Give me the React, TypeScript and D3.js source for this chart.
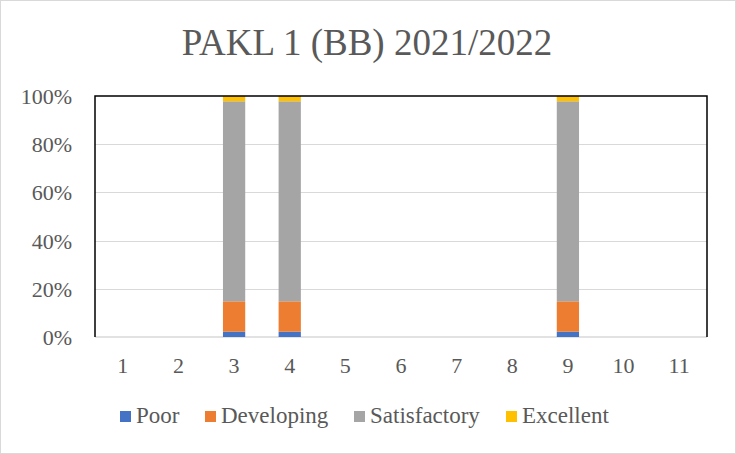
import React from "react";
import * as d3 from "d3";

const categories = ["1", "2", "3", "4", "5", "6", "7", "8", "9", "10", "11"];
const seriesNames = ["Poor", "Developing", "Satisfactory", "Excellent"];
const seriesColors = ["#4472C4", "#ED7D31", "#A5A5A5", "#FFC000"];
const poor = [0, 0, 2.2, 2.2, 0, 0, 0, 0, 2.2, 0, 0];
const developing = [0, 0, 12.6, 12.6, 0, 0, 0, 0, 12.6, 0, 0];
const satisfactory = [0, 0, 83.0, 83.0, 0, 0, 0, 0, 83.0, 0, 0];
const excellent = [0, 0, 2.2, 2.2, 0, 0, 0, 0, 2.2, 0, 0];
const yTicks = [0, 0.2, 0.4, 0.6, 0.8, 1];
const title = "PAKL 1 (BB) 2021/2022";

const W = 736;
const H = 454;
const left = 95;
const right = 707;
const top = 96;
const bottom = 337;
const font = "'Times New Roman', 'Liberation Serif', serif";
const textColor = "#595959";

export default function App() {
  const rows = categories.map((c, i) => ({
    cat: c,
    Poor: poor[i],
    Developing: developing[i],
    Satisfactory: satisfactory[i],
    Excellent: excellent[i],
  }));
  const stack = d3.stack<any>().keys(seriesNames).offset(d3.stackOffsetExpand);
  const layers = stack(rows);
  const x = d3.scaleBand().domain(categories).range([left, right]).paddingInner(0.6).paddingOuter(0.3);
  const y = d3.scaleLinear().domain([0, 1]).range([bottom, top]);
  const color = d3.scaleOrdinal<string, string>().domain(seriesNames).range(seriesColors);
  const fmt = d3.format(".0%");

  const legendX = [120, 205, 354, 506];

  return (
    <div style={{ position: "absolute", left: 0, top: 0 }}>
      <svg width={W} height={H} style={{ display: "block" }}>
        <rect x={0.5} y={0.5} width={W - 1} height={H - 1} fill="#fff" stroke="#d9d9d9" />
        <text x={W / 2 - 1} y={55} textAnchor="middle" fontFamily={font} fontSize={37} fill={textColor}>
          {title}
        </text>
        {yTicks.map((t) => (
          <g key={t}>
            {t > 0 && t < 1 && (
              <line x1={left} x2={right} y1={Math.round(y(t)) + 0.5} y2={Math.round(y(t)) + 0.5} stroke="#d9d9d9" strokeWidth={1} />
            )}
            <text x={72} y={y(t) + 8} textAnchor="end" fontFamily={font} fontSize={22} fill={textColor}>
              {fmt(t)}
            </text>
          </g>
        ))}
        <line x1={left} x2={right} y1={bottom} y2={bottom} stroke="#d9d9d9" strokeWidth={1.5} />
        {layers.map((layer) => (
          <g key={layer.key} fill={color(layer.key)}>
            {layer.map((d, i) => {
              const h = y(d[0]) - y(d[1]);
              if (!(h > 0)) return null;
              return (
                <rect key={i} x={x(categories[i])} y={y(d[1])} width={x.bandwidth()} height={h} />
              );
            })}
          </g>
        ))}
        <path
          d={`M${left},${bottom} V${top} H${right} V${bottom}`}
          fill="none"
          stroke="#000"
          strokeWidth={1.5}
        />
        {categories.map((c) => (
          <text key={c} x={(x(c) as number) + x.bandwidth() / 2} y={373} textAnchor="middle" fontFamily={font} fontSize={22} fill={textColor}>
            {c}
          </text>
        ))}
        {seriesNames.map((s, i) => (
          <g key={s}>
            <rect x={legendX[i]} y={411} width={11} height={11} fill={color(s)} />
            <text x={legendX[i] + 16} y={423} fontFamily={font} fontSize={23} fill={textColor}>
              {s}
            </text>
          </g>
        ))}
      </svg>
    </div>
  );
}
